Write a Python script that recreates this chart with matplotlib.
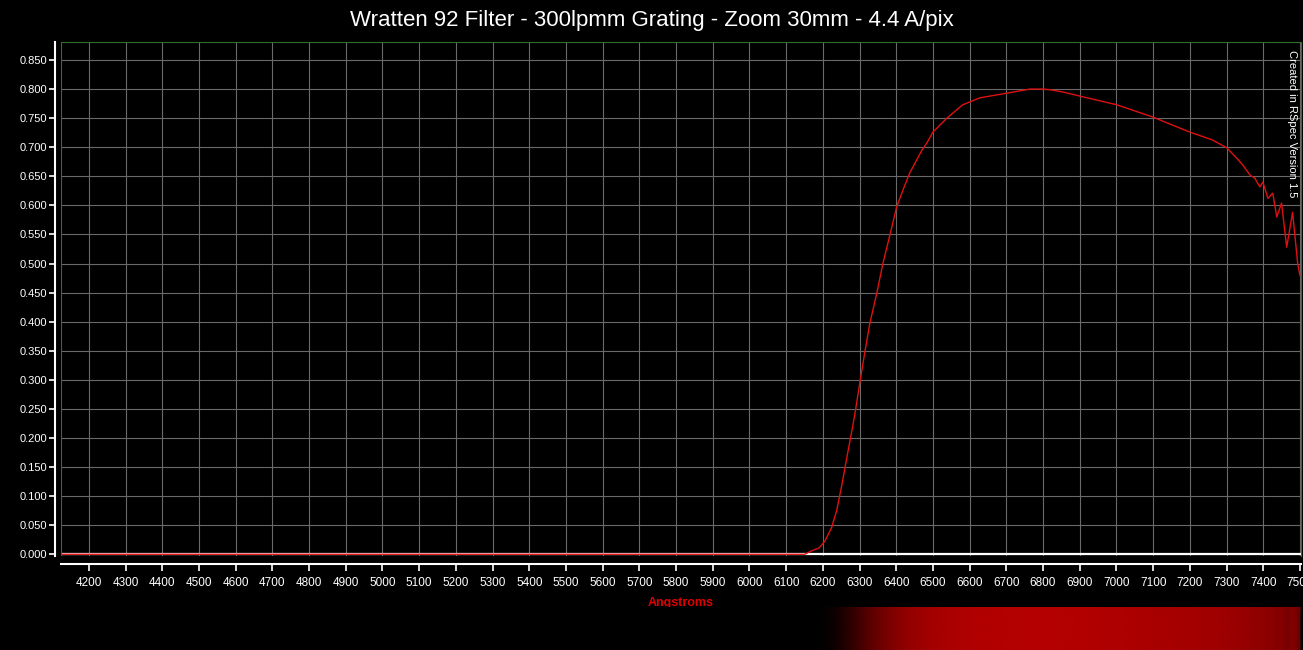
"""
Wratten 92 filter response (RSpec style plot)
"""

import matplotlib.pyplot as plt
from matplotlib.colors import LinearSegmentedColormap
import numpy as np

# wavelength (Angstroms) and relative response
wavelength = [4124, 4500, 5000, 5500, 6000, 6151, 6170, 6190, 6205, 6224, 6238,
              6252, 6265, 6279, 6287, 6301, 6314, 6328, 6347, 6364, 6382, 6401,
              6418, 6437, 6470, 6483, 6500, 6538, 6581, 6628, 6701, 6764, 6799,
              6818, 6854, 6900, 7001, 7099, 7200, 7260, 7301, 7328, 7345, 7364,
              7377, 7385, 7391, 7399, 7413, 7426, 7437, 7450, 7464, 7480, 7494,
              7500]
response = [0.0, 0.0, 0.0, 0.0, 0.0, 0.0, 0.006, 0.011, 0.022, 0.046, 0.076,
            0.120, 0.165, 0.212, 0.240, 0.296, 0.346, 0.397, 0.449, 0.501, 0.547,
            0.597, 0.626, 0.656, 0.695, 0.707, 0.726, 0.750, 0.773, 0.785, 0.793,
            0.800, 0.800, 0.799, 0.795, 0.788, 0.773, 0.752, 0.726, 0.713, 0.699,
            0.681, 0.669, 0.652, 0.647, 0.638, 0.632, 0.640, 0.612, 0.621, 0.580,
            0.604, 0.528, 0.588, 0.500, 0.480]

x_ticks = list(range(4200, 7501, 100))
y_ticks = [round(0.05 * i, 3) for i in range(18)]

title = "Wratten 92 Filter - 300lpmm Grating - Zoom 30mm - 4.4 A/pix"

plt.rcParams['font.family'] = ['Liberation Sans', 'DejaVu Sans']

fig = plt.figure(figsize=(13.03, 6.5), dpi=100, facecolor='black')
ax = fig.add_axes([61 / 1303, 1 - 556 / 650, 1240 / 1303, 514 / 650])
ax.set_facecolor('black')

green = '#2f6f2f'
ax.grid(True, color='#6a6a6a', lw=0.8)
ax.set_axisbelow(True)

# white baseline along zero, red curve on top
ax.axhline(0, color='white', lw=1.6, zorder=2)
ax.plot(wavelength, response, color='#e01010', lw=1.0, zorder=3)

ax.set_xlim(4124, 7503)
ax.set_ylim(-0.003, 0.881)
ax.set_xticks(x_ticks)
ax.set_yticks(y_ticks)
ax.set_yticklabels([f'{v:.3f}' for v in y_ticks])

for side in ['top', 'right']:
    ax.spines[side].set_color(green)
ax.spines['left'].set_position(('outward', 4))
ax.spines['left'].set_color('white')
ax.spines['left'].set_linewidth(1.5)
ax.spines['bottom'].set_position(('outward', 6))
ax.spines['bottom'].set_color('white')
ax.spines['bottom'].set_linewidth(1.5)
ax.axvline(4124, color=green, lw=1.5, zorder=4)

ax.tick_params(axis='y', colors='white', labelsize=8, length=4, width=1.2, pad=2)
ax.tick_params(axis='x', colors='white', labelsize=8.5, length=5, width=1.2, pad=4)

ax.set_xlabel('Angstroms', color='#e00000', fontsize=9, fontweight='bold', labelpad=6)
fig.suptitle(title, color='white', fontsize=16, y=0.985)

ax.text(0.9925, 0.985, 'Created in RSpec Version 1.5', transform=ax.transAxes,
        rotation=270, color='white', fontsize=8, ha='center', va='top')

# synthetic spectrum strip under the axis, brightness from the response
strip = fig.add_axes([61 / 1303, 0, 1240 / 1303, 43 / 650])
strip.set_facecolor('black')
cmap = LinearSegmentedColormap.from_list('redstrip', ['black', '#b40000'])
level = np.array(response) / max(response)
xx, yy = np.meshgrid(wavelength, [0, 1])
strip.pcolormesh(xx, yy, np.vstack([level, level]), cmap=cmap, vmin=0, vmax=1,
                 shading='gouraud')
strip.set_xlim(4124, 7503)
strip.set_ylim(0, 1)
strip.axis('off')

fig.savefig('out.png', dpi=100, facecolor='black')
